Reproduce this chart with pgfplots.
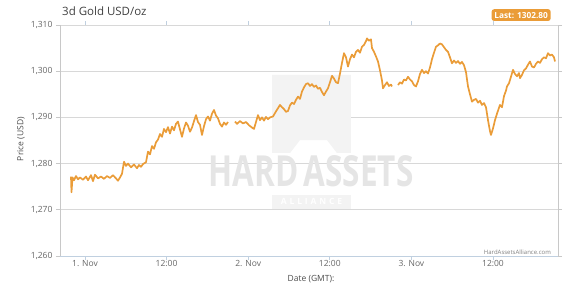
\documentclass[border=0pt]{standalone}
\usepackage{pgfplots}
\pgfplotsset{compat=1.18}
\usepackage{pgfplotstable}
\usepackage{fontspec}
\setmainfont{Open Sans}
\definecolor{gold}{RGB}{234,156,56}
\definecolor{gridc}{RGB}{216,216,216}
\definecolor{axc}{RGB}{200,200,200}
\definecolor{bluec}{RGB}{192,208,224}
\definecolor{tickt}{RGB}{102,102,102}
\definecolor{wm}{RGB}{229,229,229}
\definecolor{wm2}{RGB}{243,243,243}

\pgfplotstableread{
px price
71 1277.2
71.5 1273.8
72.5 1277.0
74 1276.4
76 1277.3
78 1276.6
80 1277.0
83 1276.5
86 1277.2
88 1276.4
91 1277.5
93 1276.2
95 1277.6
98 1276.8
101 1277.2
104 1276.7
107 1277.3
110 1276.9
113 1277.5
116 1276.8
118 1276.3
120 1277.0
122 1277.8
124 1280.4
126 1279.5
128 1280.0
131 1279.2
134 1279.8
137 1279.0
139 1279.7
141 1279.3
143 1279.9
146 1280.3
148 1282.6
150 1282.0
152 1283.8
154 1283.2
156 1284.6
158 1285.2
160 1286.4
162 1285.8
164 1287.5
166 1286.8
168 1287.9
170 1286.5
172 1288.0
174 1287.2
176 1288.6
178 1289.1
180 1287.4
182 1285.8
184 1287.6
186 1288.9
188 1288.2
190 1286.9
192 1287.8
194 1289.2
196 1290.5
198 1289.0
200 1288.4
202 1286.2
204 1288.1
206 1289.6
208 1290.2
210 1289.3
212 1290.8
214 1291.6
216 1290.4
218 1289.8
220 1288.6
222 1288.0
224 1288.9
226 1288.4
228 1289.0
231 nan
235 1289.1
237 1288.6
240 1289.2
243 1288.7
246 1289.0
249 1288.3
252 1287.8
254 1287.5
256 1289.0
258 1290.5
260 1289.4
262 1290.0
264 1289.3
266 1290.1
268 1289.6
270 1290.0
273 1290.2
276 1291.3
278 1292.0
280 1292.7
282 1292.2
284 1291.8
286 1291.2
288 1291.4
290 1292.6
292 1293.2
294 1292.9
296 1293.8
298 1294.5
300 1294.0
302 1295.6
304 1296.5
306 1297.2
308 1297.4
310 1296.8
312 1297.2
314 1296.6
316 1296.9
318 1296.2
320 1296.4
322 1295.5
324 1294.8
326 1295.6
328 1296.3
330 1297.6
332 1299.0
334 1298.4
336 1297.6
338 1297.4
340 1299.5
342 1301.8
344 1303.9
346 1303.0
348 1301.0
350 1302.6
352 1303.6
354 1303.0
356 1304.2
358 1304.6
360 1304.0
362 1305.3
364 1305.7
366 1306.5
367 1307.1
369 1306.6
371 1306.9
372 1305.0
374 1304.2
376 1303.2
378 1302.1
380 1300.2
382 1298.0
383 1296.3
385 1297.0
387 1297.6
389 1296.8
391 1297.1
392 1296.7
395 nan
398 1297.0
400 1297.6
402 1297.3
404 1298.2
406 1298.0
408 1298.8
410 1298.2
412 1297.8
414 1297.0
416 1296.7
418 1297.8
420 1299.4
422 1300.3
424 1299.6
426 1300.0
428 1299.5
430 1300.8
432 1302.6
434 1304.0
436 1305.3
438 1305.6
440 1306.0
442 1305.8
444 1305.2
446 1304.6
448 1304.2
450 1303.0
452 1301.7
454 1302.3
456 1301.8
458 1302.2
460 1301.6
462 1302.0
464 1301.3
466 1299.8
468 1296.7
470 1295.0
472 1293.4
474 1293.8
476 1294.0
478 1293.2
480 1293.6
482 1292.7
484 1293.1
486 1292.2
488 1289.4
490 1287.0
491 1286.2
493 1287.6
495 1289.4
497 1290.8
499 1292.1
500 1292.7
502 1292.2
504 1294.6
506 1295.8
507 1296.7
509 1297.4
511 1298.8
513 1300.3
515 1299.4
517 1298.9
519 1299.6
520 1298.5
522 1299.2
524 1300.2
526 1300.6
528 1301.4
530 1302.1
532 1301.0
534 1300.8
536 1301.6
538 1302.1
540 1301.8
542 1302.6
544 1303.0
546 1302.8
548 1303.9
550 1303.4
552 1303.6
554 1303.0
555 1302.1
}\golddata

\begin{document}
\begin{tikzpicture}
\useasboundingbox (-60pt,-30pt) rectangle (508pt,256pt);
\begin{axis}[
  at={(0,0)}, anchor=south west,
  scale only axis, width=498pt, height=231pt,
  clip=false,
  xmin=-3.676, xmax=69.56, ymin=1260, ymax=1310,
  xtick={0,12,24,36,48,60},
  xticklabels={1. Nov,12:00,2. Nov,12:00,3. Nov,12:00},
  ytick={1260,1270,1280,1290,1300,1310},
  /pgf/number format/1000 sep={,},
  /pgf/number format/assume math mode=true,
  ticklabel style={font=\fontsize{8.5}{9}\selectfont, text=tickt},
  axis line style={draw=none},
  tick align=outside,
  major tick length=4pt,
  x tick style={draw=bluec, line width=0.8pt},
  y tick style={draw=axc, line width=0.8pt},
  xticklabel style={yshift=3pt},
  yticklabel style={xshift=0pt},
  ymajorgrids, grid style={draw=gridc, line width=0.8pt},
  unbounded coords=jump,
]
% watermark
\fill[wm2] (rel axis cs:0.426,0.446) -- (rel axis cs:0.462,0.446) -- (rel axis cs:0.482,0.502) -- (rel axis cs:0.536,0.502) -- (rel axis cs:0.556,0.446) -- (rel axis cs:0.584,0.446) -- (rel axis cs:0.584,0.784) -- (rel axis cs:0.426,0.784) -- cycle;
\node[text=wm, inner sep=0pt] at (rel axis cs:0.504,0.368) {\resizebox{205pt}{31pt}{\bfseries HARD\,ASSETS}};
\node[fill=wm2, text=white, inner sep=0pt, minimum width=79pt, minimum height=14pt, font=\fontsize{8.5}{10}\selectfont\bfseries] at (rel axis cs:0.505,0.234) {A\,\,L\,\,L\,\,I\,\,A\,\,N\,\,C\,\,E};
% frame
\draw[axc, line width=0.8pt] (rel axis cs:0,0) -- (rel axis cs:0,1);
\draw[axc, line width=0.8pt] (rel axis cs:1,0) -- (rel axis cs:1,1);
\draw[bluec, line width=0.8pt] (rel axis cs:0,0) -- (rel axis cs:1,0);
\addplot[gold, line width=1.7pt, line join=round] table[x expr={(\thisrow{px}-85)*12/81.6}, y=price] {\golddata};
\node[anchor=south east, text=gray, font=\fontsize{6}{7}\selectfont, inner sep=1pt] at (rel axis cs:0.988,0.0) {HardAssetsAlliance.com};
\node[fill=gold, rounded corners=2.5pt, text=white, font=\fontsize{8.3}{9}\selectfont\bfseries, inner sep=2.8pt] at (rel axis cs:0.926,1.043) {Last: 1302.80};
\node[anchor=west, text=black!75, font=\fontsize{11.5}{13}\selectfont, inner sep=0pt] at (rel axis cs:0.004,1.061) {3d Gold USD/oz};
\node[rotate=90, text=black!70, font=\fontsize{8.5}{9}\selectfont] at ([xshift=-39pt]rel axis cs:0,0.506) {Price (USD)};
\node[text=black!70, font=\fontsize{8.5}{9}\selectfont] at ([yshift=-23pt]rel axis cs:0.504,0) {Date (GMT):};
\end{axis}
\end{tikzpicture}
\end{document}
